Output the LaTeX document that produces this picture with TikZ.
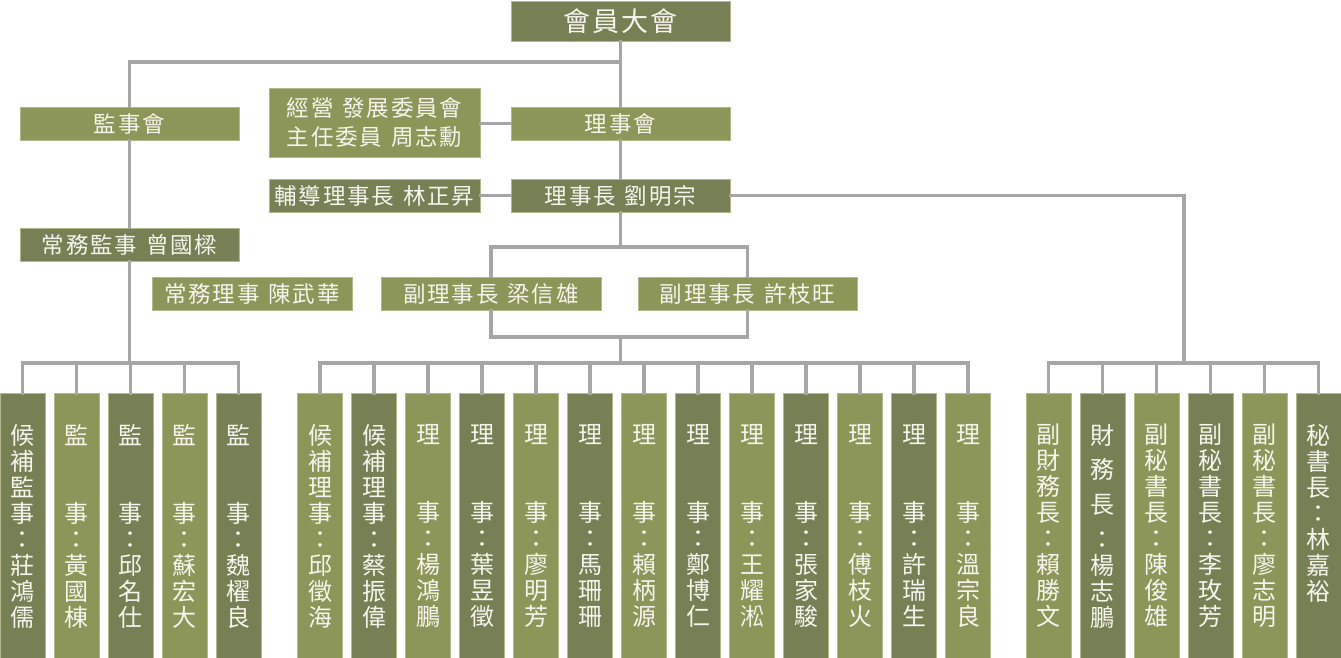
\documentclass[tikz,border=0pt]{standalone}
\usepackage{fontspec}
\setmainfont{Noto Sans CJK TC}
\newfontfamily\boxfont[LetterSpace=8]{Noto Sans CJK TC}
\newfontfamily\topfont[LetterSpace=8]{Noto Sans CJK TC}
\newfontfamily\colfont{Noto Sans CJK TC}
\definecolor{dk}{RGB}{119,127,85}
\definecolor{lt}{RGB}{140,150,88}
\definecolor{edge}{RGB}{178,184,140}
\definecolor{linegray}{RGB}{166,166,166}
\definecolor{txt}{RGB}{245,245,238}
\newcommand\gap{\hspace{9pt}}
\tikzset{
  conn/.style={draw=linegray, line width=3.2pt, line cap=rect},
  hbox/.style={rectangle, draw=edge, line width=0.8pt, inner sep=0pt, text=txt,
    font=\boxfont\fontsize{22.5}{29}\selectfont, align=center},
  colbox/.style={rectangle, draw=edge, line width=0.8pt, inner sep=0pt,
    minimum width=45pt, minimum height=266pt},
  coltext/.style={anchor=north, inner sep=0pt, text=txt, align=center,
    font=\colfont\fontsize{24}{26}\selectfont},
}
\newcommand\mkcol[4]{%
  \node[colbox, fill=#3] (#1) at (#2,526.5) {};
  \node[coltext] (#1t) at (#2,424) {#4};}
\begin{document}
\begin{tikzpicture}[x=1pt,y=-1pt]
\useasboundingbox (0,0) rectangle (1341,658);
% top boxes
\node[hbox, fill=dk, minimum width=219pt, minimum height=40pt,
  font=\topfont\fontsize{27}{29}\selectfont] (hy) at (620.5,21) {會員大會};
\node[hbox, fill=lt, minimum width=219pt, minimum height=33pt] (jsh) at (129.5,123.5) {監事會};
\node[hbox, fill=lt, minimum width=211pt, minimum height=69pt] (jy) at (374.5,122.5) {經營\gap 發展委員會\\主任委員\gap 周志勳};
\node[hbox, fill=lt, minimum width=219pt, minimum height=33pt] (lsh) at (620.5,123.5) {理事會};
\node[hbox, fill=dk, minimum width=211pt, minimum height=33pt] (fd) at (374.5,195.5) {輔導理事長\gap 林正昇};
\node[hbox, fill=dk, minimum width=219pt, minimum height=33pt] (lsz) at (620.5,195.5) {理事長\gap 劉明宗};
\node[hbox, fill=dk, minimum width=219pt, minimum height=33pt] (cwjs) at (129.5,244.5) {常務監事\gap 曾國樑};
\node[hbox, fill=lt, minimum width=200pt, minimum height=33pt] (cwls) at (252,293.5) {常務理事\gap 陳武華};
\node[hbox, fill=lt, minimum width=220pt, minimum height=33pt] (vl) at (491,293.5) {副理事長\gap 梁信雄};
\node[hbox, fill=lt, minimum width=219pt, minimum height=33pt] (vr) at (747.5,293.5) {副理事長\gap 許枝旺};
% helper coordinates
\coordinate (c1) at (620.5,62);
\coordinate (vt) at (620.5,247);
\coordinate (vb) at (620.5,337);
\coordinate (lb) at (129.5,363);
\coordinate (mb) at (620.5,363);
\coordinate (rb) at (1184,363);
% bottom columns: left group
\mkcol{L1}{22.5}{dk}{候\\補\\監\\事\\：\\莊\\鴻\\儒}
\mkcol{L2}{76.5}{lt}{監\\　\\　\\事\\：\\黃\\國\\棟}
\mkcol{L3}{130.5}{dk}{監\\　\\　\\事\\：\\邱\\名\\仕}
\mkcol{L4}{184.5}{lt}{監\\　\\　\\事\\：\\蘇\\宏\\大}
\mkcol{L5}{238.5}{dk}{監\\　\\　\\事\\：\\魏\\櫂\\良}
% middle group
\mkcol{M1}{320}{lt}{候\\補\\理\\事\\：\\邱\\徵\\海}
\mkcol{M2}{374}{dk}{候\\補\\理\\事\\：\\蔡\\振\\偉}
\mkcol{M3}{428}{lt}{理\\　\\　\\事\\：\\楊\\鴻\\鵬}
\mkcol{M4}{482}{dk}{理\\　\\　\\事\\：\\葉\\昱\\徵}
\mkcol{M5}{536}{lt}{理\\　\\　\\事\\：\\廖\\明\\芳}
\mkcol{M6}{590}{dk}{理\\　\\　\\事\\：\\馬\\珊\\珊}
\mkcol{M7}{644}{lt}{理\\　\\　\\事\\：\\賴\\柄\\源}
\mkcol{M8}{698}{dk}{理\\　\\　\\事\\：\\鄭\\博\\仁}
\mkcol{M9}{752}{lt}{理\\　\\　\\事\\：\\王\\耀\\淞}
\mkcol{M10}{806}{dk}{理\\　\\　\\事\\：\\張\\家\\駿}
\mkcol{M11}{860}{lt}{理\\　\\　\\事\\：\\傅\\枝\\火}
\mkcol{M12}{914}{dk}{理\\　\\　\\事\\：\\許\\瑞\\生}
\mkcol{M13}{968}{lt}{理\\　\\　\\事\\：\\溫\\宗\\良}
% right group
\mkcol{R1}{1048.5}{lt}{副\\財\\務\\長\\：\\賴\\勝\\文}
\mkcol{R2}{1102.5}{dk}{財\\[8.7pt]務\\[8.7pt]長\\[8.7pt]：\\楊\\志\\鵬}
\mkcol{R3}{1156.5}{lt}{副\\秘\\書\\長\\：\\陳\\俊\\雄}
\mkcol{R4}{1210.5}{dk}{副\\秘\\書\\長\\：\\李\\玫\\芳}
\mkcol{R5}{1264.5}{lt}{副\\秘\\書\\長\\：\\廖\\志\\明}
\mkcol{R6}{1318.5}{dk}{秘\\書\\長\\：\\林\\嘉\\裕}
% connectors top
\draw[conn] (hy) -- (lsh);
\draw[conn] (jsh.north) |- (c1);
\draw[conn] (jsh) -- (cwjs);
\draw[conn] (jy.east |- lsh) -- (lsh.west);
\draw[conn] (fd.east) -- (lsz.west);
\draw[conn] (lsh) -- (lsz);
\draw[conn] (lsz.east) -| (rb);
\draw[conn] (lsz.south) -- (vt);
\draw[conn] (vl.north) |- (vt) -| (vr.north);
\draw[conn] (vl.south) |- (vb) -| (vr.south);
\draw[conn] (vb) -- (mb);
\draw[conn] (cwjs.south) -- (lb);
% buses
\draw[conn] (L1.north |- lb) -- (L5.north |- lb);
\draw[conn] (M1.north |- mb) -- (M13.north |- mb);
\draw[conn] (R1.north |- rb) -- (R6.north |- rb);
\foreach \n in {L1,L2,L3,L4,L5}{\draw[conn] (\n.north) -- (\n.north |- lb);}
\foreach \n in {M1,M2,M3,M4,M5,M6,M7,M8,M9,M10,M11,M12,M13}{\draw[conn] (\n.north) -- (\n.north |- mb);}
\foreach \n in {R1,R2,R3,R4,R5,R6}{\draw[conn] (\n.north) -- (\n.north |- rb);}
\end{tikzpicture}
\end{document}
